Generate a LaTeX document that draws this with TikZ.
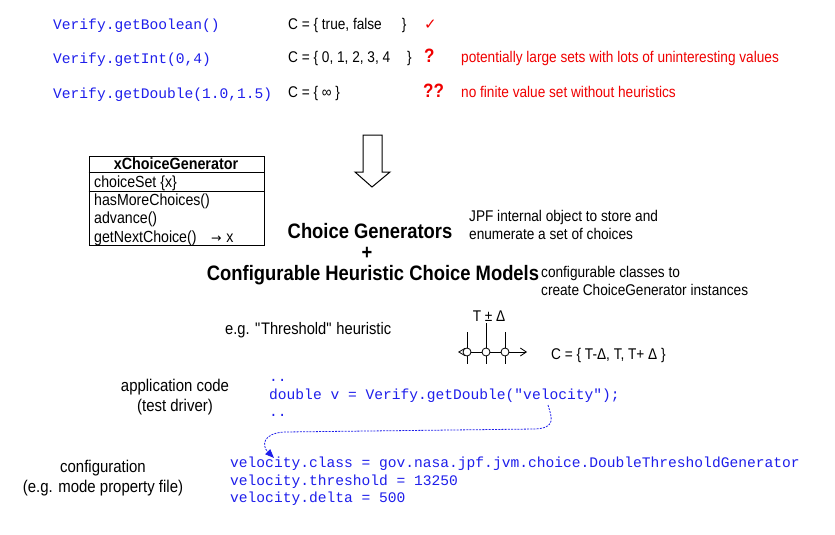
\documentclass[tikz,border=0pt]{standalone}
\usepackage{fontspec}
\setmainfont{Liberation Sans}[FakeStretch=0.88]
\newfontfamily\codefont{Liberation Mono}
\newfontfamily\symfont{DejaVu Sans}
\usetikzlibrary{arrows.meta}
\definecolor{codeblue}{RGB}{30,30,235}
\definecolor{redtxt}{RGB}{240,0,0}
\begin{document}
\begin{tikzpicture}[x=1pt,y=-1pt,
 txt/.style={font=\fontsize{15.5}{18}\selectfont, inner sep=0pt, anchor=base west},
 ctxt/.style={txt, anchor=base},
 lbl/.style={font=\fontsize{17}{20}\selectfont, inner sep=0pt, anchor=base},
 code/.style={font=\codefont\fontsize{14.6}{17}\selectfont, text=codeblue, inner sep=0pt, anchor=base west},
 note/.style={txt, text=redtxt},
 qmark/.style={font=\bfseries\fontsize{19.3}{22}\selectfont, text=redtxt, inner sep=0pt, anchor=base west},
 big/.style={font=\bfseries\fontsize{20.9}{24}\selectfont, inner sep=0pt, anchor=base},
 boxtxt/.style={font=\fontsize{16.1}{18}\selectfont, inner sep=0pt, anchor=base west},
 dot/.style={circle, draw, fill=white, inner sep=0pt, minimum size=8pt, line width=0.8pt}
]
\useasboundingbox[fill=white] (0,0) rectangle (835,535);

% top rows
\node[code] (v1) at (53,29.5) {Verify.getBoolean()};
\node[code] (v2) at (53,63.5) {Verify.getInt(0,4)};
\node[code] (v3) at (53,98) {Verify.getDouble(1.0,1.5)};
\node[txt] (c1) at (288,30) {C = \{ true, false\hspace{1.3em}\}};
\node[txt] (c2) at (288,63) {C = \{ 0, 1, 2, 3, 4\hspace{1.1em}\}};
\node[txt] (c3) at (288,97.5) {C = \{ ∞ \}};
\node[txt, text=redtxt, font=\symfont\fontsize{15}{17}\selectfont] (m1) at (424,30) {✓};
\node[qmark] (m2) at (424,63) {?};
\node[qmark] (m3) at (423,97.5) {??};
\node[note] (n2) at (461,63) {potentially large sets with lots of uninteresting values};
\node[note] (n3) at (461,97.5) {no finite value set without heuristics};

% hollow arrow
\draw[line width=1pt, fill=white] (363,135) -- (382,135) -- (382,172) -- (390,172) -- (372,187) -- (355,172) -- (363,172) -- cycle;

% class box
\node[draw, line width=1pt, minimum width=175pt, minimum height=89pt, inner sep=0pt] (cg) at (176.5,200.5) {};
\draw[line width=1pt] (cg.west |- 0,172) -- (cg.east |- 0,172);
\draw[line width=1pt] (cg.west |- 0,191) -- (cg.east |- 0,191);
\node[anchor=base, inner sep=0pt, font=\bfseries\fontsize{16.3}{18}\selectfont] (cgh) at (176,169) {xChoiceGenerator};
\node[boxtxt] (b1) at (94,187) {choiceSet \{x\}};
\node[boxtxt] (b2) at (94,205) {hasMoreChoices()};
\node[boxtxt] (b3) at (94,223.5) {advance()};
\node[boxtxt] (b4) at (94,242) {getNextChoice()\hspace{0.9em}{\symfont\fontsize{12.5}{14}\selectfont →}\hspace{0.3em}x};

% middle titles
\node[big] (cgt) at (370,238) {Choice Generators};
\node[big] (plus) at (367,259) {+};
\node[big] (chm) at (373,280) {Configurable Heuristic Choice Models};
\node[txt] (d1) at (469,221.5) {JPF internal object to store and};
\node[txt] (d2) at (469,239) {enumerate a set of choices};
\node[txt] (d3) at (541,277) {configurable classes to};
\node[txt] (d4) at (541,295) {create ChoiceGenerator instances};

% threshold
\node[txt, font=\fontsize{16.7}{19}\selectfont] (eg) at (225,334) {e.g. \textquotedbl Threshold\textquotedbl\ heuristic};
\node[ctxt] (tpd) at (489,321) {T ± Δ};
\node[txt] (cset) at (551,359) {C = \{ T-Δ, T, T+ Δ \}};
\draw[line width=0.8pt] (467,332) -- (467,364);
\draw[line width=0.8pt] (486,323) -- (486,364);
\draw[line width=0.8pt] (505,332) -- (505,364);
\coordinate (al) at (458,352);
\coordinate (ar) at (527,352);
\draw[line width=0.8pt, {Triangle[open,length=7pt,width=8pt]}-{Straight Barb[length=6pt,width=8pt]}] (al) -- (ar);
\node[dot] (p1) at (467,352) {};
\node[dot] (p2) at (486,352) {};
\node[dot] (p3) at (505,352) {};

% application code
\node[lbl] (ap1) at (175,391) {application code};
\node[lbl] (ap2) at (175,411) {(test driver)};
\node[code] (l1) at (269,381) {..};
\node[code] (l2) at (269,399) {double v = Verify.getDouble("velocity");};
\node[code] (l3) at (269,416) {..};

% configuration
\node[lbl] (cf1) at (103,472) {configuration};
\node[lbl] (cf2) at (103,492) {(e.g. mode property file)};
\node[code] (k1) at (230,467.5) {velocity.class = gov.nasa.jpf.jvm.choice.DoubleThresholdGenerator};
\node[code] (k2) at (230,485) {velocity.threshold = 13250};
\node[code] (k3) at (230,502.5) {velocity.delta = 500};

% dashed link
\coordinate (ds) at (548,405);
\coordinate (de) at (274,458);
\draw[codeblue, line width=0.8pt, dash pattern=on 2pt off 1.2pt, -{Triangle[length=9pt,width=7pt]}]
  (ds) .. controls (552,418) and (556,428) .. (535,429) -- (285,432)
  .. controls (262,433) and (262,446) .. (de);
\end{tikzpicture}
\end{document}
